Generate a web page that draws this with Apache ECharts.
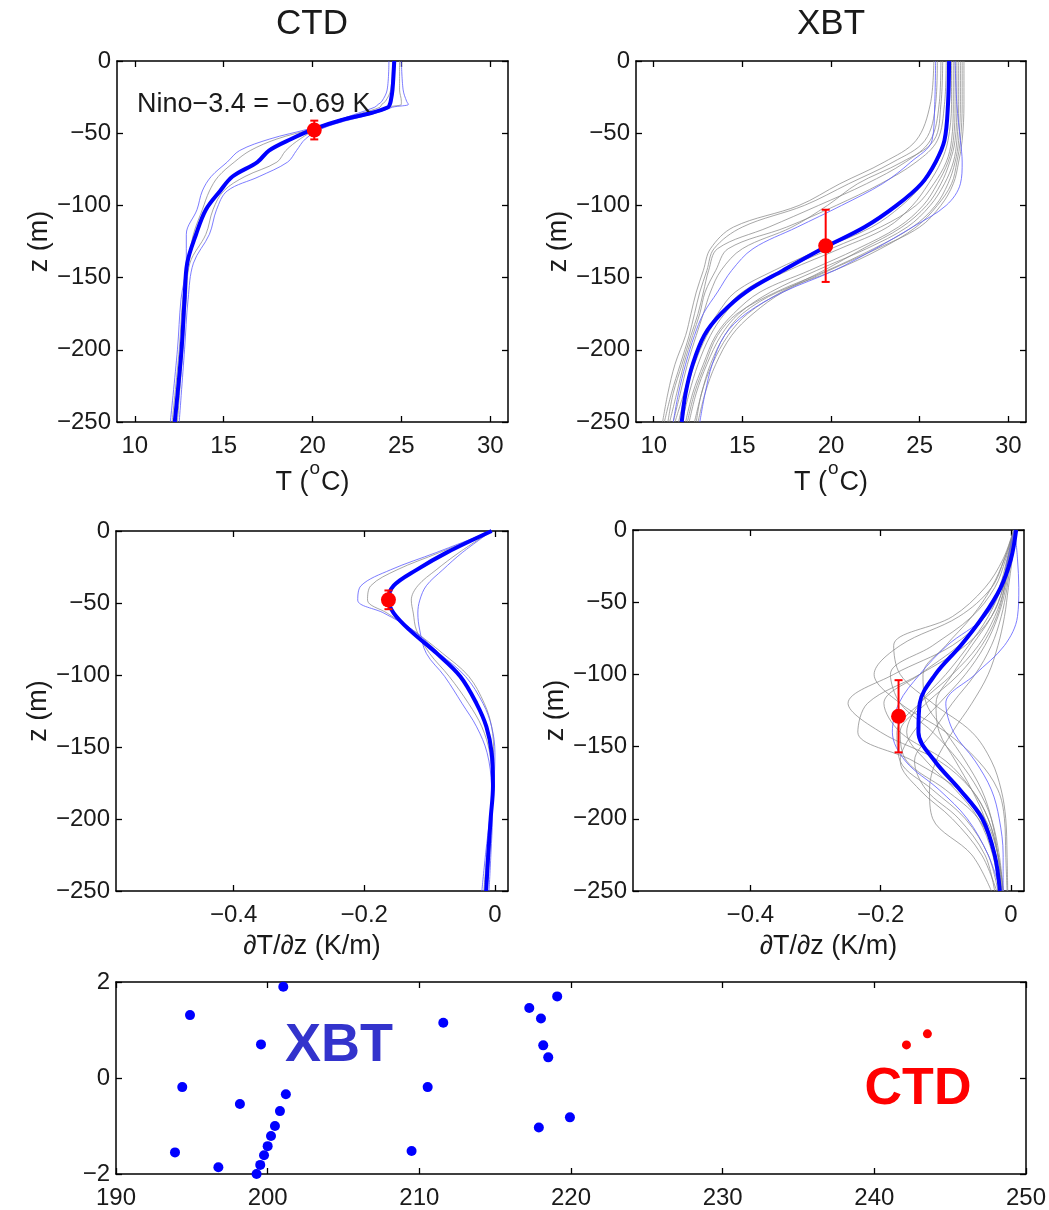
<!DOCTYPE html>
<html><head><meta charset="utf-8">
<script src="https://cdn.jsdelivr.net/npm/echarts@6/dist/echarts.min.js"></script>
<style>html,body{margin:0;padding:0;background:#fff}#c{width:1049px;height:1210px}</style>
</head><body><div id="c"></div>
<script>
// ---------- tick labels ----------
const tempTicks = [10, 15, 20, 25, 30];
const gradTicks = [-0.4, -0.2, 0];
const depthTicks = [0, -50, -100, -150, -200, -250];
const lonTicks = [190, 200, 210, 220, 230, 240, 250];
const idxTicks = [-2, 0, 2];

// ---------- CTD temperature profiles ----------
const ctdDepth = [0, -20, -28, -30, -32, -36, -41, -47, -54, -62, -70, -80, -90, -103, -120, -140, -165, -200, -250];
const ctdTempMean = [24.6, 24.5, 24.4, 24.35, 24.25, 23.3, 21.6, 20.1, 18.8, 17.55, 16.9, 15.5, 14.8, 14.0, 13.45, 12.95, 12.8, 12.63, 12.25];
const ctdTempBlue = [
  [24.3, 24.2, 23.9, 23.7, 23.5, 22.6, 21.4, 19.8, 17.6, 15.9, 15.2, 14.3, 13.8, 13.5, 12.9, 12.9, 12.6, 12.4, 12.0],
  [25.0, 25.1, 25.3, 25.4, 24.5, 23.6, 22.0, 20.5, 19.6, 19.1, 18.6, 17.0, 15.2, 14.6, 14.2, 13.3, 13.0, 12.8, 12.5]
];
const ctdTempGray = [
  [24.5, 24.4, 24.1, 23.9, 23.8, 22.8, 21.4, 20.0, 18.0, 16.5, 15.6, 14.7, 14.2, 13.8, 13.3, 13.0, 12.7, 12.5, 12.1],
  [24.9, 24.9, 25.0, 25.0, 24.2, 23.4, 21.8, 20.3, 19.3, 18.5, 18.0, 16.2, 15.0, 14.4, 14.0, 13.1, 12.9, 12.7, 12.4]
];
const ctdPoint = [[20.1, -47.8, 6.5]];

// ---------- CTD gradient profiles ----------
const ctdGradDepth = [0, -15, -27, -38, -48, -57, -69, -85, -101, -120, -136, -154, -177, -200, -223, -250];
const ctdGradMean = [-0.005, -0.074, -0.12, -0.155, -0.163, -0.155, -0.13, -0.089, -0.053, -0.028, -0.013, -0.005, -0.003, -0.0066, -0.010, -0.0135];
const ctdGradBlue = [
  [-0.005, -0.09, -0.16, -0.205, -0.21, -0.17, -0.125, -0.085, -0.045, -0.018, -0.005, 0.0, -0.002, -0.008, -0.014, -0.02],
  [-0.005, -0.05, -0.08, -0.105, -0.115, -0.118, -0.115, -0.105, -0.077, -0.05, -0.028, -0.012, -0.005, -0.004, -0.006, -0.009]
];
const ctdGradGray = [
  [-0.005, -0.085, -0.15, -0.19, -0.195, -0.165, -0.125, -0.08, -0.04, -0.016, -0.005, -0.002, -0.003, -0.007, -0.012, -0.017],
  [-0.005, -0.055, -0.09, -0.118, -0.128, -0.125, -0.12, -0.1, -0.07, -0.04, -0.02, -0.008, -0.004, -0.005, -0.008, -0.012]
];
const ctdGradPoint = [[-0.163, -47.8, 6.5]];

// ---------- XBT temperature profiles ----------
const xbtDepth = [0, -30, -55, -70, -85, -100, -115, -130, -145, -160, -175, -190, -210, -230, -250];
const xbtTempMean = [26.66, 26.6, 26.4, 25.9, 25.1, 23.7, 21.9, 19.5, 17.3, 15.2, 13.8, 12.85, 12.2, 11.8, 11.58];
const xbtTempBlue = [
  [25.9, 25.85, 25.7, 24.5, 22.9, 20.6, 18.1, 15.6, 14.4, 13.6, 12.8, 12.3, 11.8, 11.4, 11.1],
  [27.0, 27.1, 27.3, 27.4, 27.3, 26.5, 24.6, 22.5, 20.2, 17.3, 15.2, 14.0, 13.3, 12.9, 12.6]
];
const xbtTempGray = [
  [26.0, 25.9, 25.3, 23.5, 21.0, 18.5, 15.0, 13.4, 13.0, 12.6, 12.3, 12.0, 11.5, 11.0, 10.6],
  [26.2, 26.1, 25.6, 24.2, 22.0, 19.3, 16.5, 13.6, 13.1, 12.8, 12.5, 12.1, 11.6, 11.1, 10.8],
  [25.8, 25.6, 24.8, 23.0, 20.5, 18.2, 14.5, 13.2, 12.8, 12.4, 12.1, 11.8, 11.2, 10.8, 10.5],
  [26.5, 26.4, 26.0, 24.8, 22.8, 20.3, 17.5, 14.2, 13.5, 12.9, 12.6, 12.2, 11.7, 11.3, 10.9],
  [26.3, 26.2, 25.8, 24.0, 21.5, 19.8, 17.8, 15.0, 13.8, 13.2, 12.8, 12.4, 11.9, 11.5, 11.1],
  [26.8, 26.8, 26.6, 26.2, 25.5, 24.6, 23.2, 20.5, 17.6, 15.2, 14.0, 13.2, 12.5, 12.0, 11.6],
  [27.0, 27.0, 26.9, 26.6, 26.0, 25.2, 23.8, 21.5, 18.8, 16.0, 14.5, 13.5, 12.8, 12.2, 11.8],
  [27.2, 27.2, 27.1, 26.9, 26.4, 25.6, 24.3, 22.0, 19.2, 16.6, 14.8, 13.8, 13.0, 12.4, 12.0],
  [27.4, 27.4, 27.3, 27.1, 26.8, 26.0, 24.8, 22.8, 20.2, 17.0, 15.0, 14.0, 13.2, 12.7, 12.3],
  [26.9, 26.9, 26.8, 26.5, 25.8, 24.8, 22.8, 20.0, 17.2, 15.0, 13.8, 13.0, 12.3, 11.8, 11.4],
  [27.1, 27.1, 27.0, 26.7, 26.2, 25.4, 24.0, 21.8, 19.6, 17.2, 15.3, 14.2, 13.3, 12.7, 12.4],
  [26.6, 26.6, 26.4, 26.0, 25.2, 24.0, 22.3, 19.5, 16.8, 14.6, 13.6, 12.9, 12.2, 11.7, 11.2],
  [27.3, 27.3, 27.2, 27.0, 26.6, 25.9, 24.6, 22.4, 19.8, 16.9, 14.7, 13.6, 12.9, 12.3, 11.9],
  [27.5, 27.5, 27.4, 27.2, 26.9, 26.2, 25.0, 22.6, 19.9, 17.3, 15.6, 14.4, 13.5, 12.9, 12.5]
];
const xbtPoint = [[19.7, -128, 25]];

// ---------- XBT gradient profiles ----------
const xbtGradDepth = [0, -20, -40, -60, -80, -100, -120, -140, -160, -180, -200, -225, -250];
const xbtGradMean = [0.008, 0.0, -0.016, -0.043, -0.077, -0.116, -0.14, -0.142, -0.117, -0.078, -0.044, -0.025, -0.017];
const xbtGradBlue = [
  [0.005, -0.005, -0.015, -0.04, -0.098, -0.14, -0.172, -0.182, -0.162, -0.11, -0.067, -0.035, -0.016],
  [0.006, 0.01, 0.012, 0.01, -0.01, -0.055, -0.1, -0.088, -0.055, -0.03, -0.018, -0.012, -0.012]
];
const xbtGradGray = [
  [0.005, -0.005, -0.015, -0.04, -0.09, -0.18, -0.25, -0.2, -0.11, -0.06, -0.035, -0.02, -0.012],
  [0.004, -0.004, -0.012, -0.03, -0.07, -0.14, -0.22, -0.235, -0.15, -0.08, -0.04, -0.02, -0.012],
  [0.005, -0.01, -0.03, -0.08, -0.17, -0.21, -0.17, -0.1, -0.05, -0.02, -0.01, -0.008, -0.006],
  [0.004, -0.008, -0.025, -0.06, -0.12, -0.185, -0.17, -0.12, -0.08, -0.05, -0.03, -0.018, -0.012],
  [0.005, -0.004, -0.01, -0.025, -0.05, -0.09, -0.14, -0.175, -0.17, -0.12, -0.07, -0.035, -0.02],
  [0.006, -0.002, -0.008, -0.02, -0.04, -0.07, -0.11, -0.15, -0.17, -0.14, -0.09, -0.045, -0.022],
  [0.005, -0.005, -0.015, -0.035, -0.065, -0.1, -0.14, -0.16, -0.13, -0.085, -0.05, -0.028, -0.018],
  [0.004, -0.01, -0.03, -0.06, -0.1, -0.135, -0.13, -0.1, -0.07, -0.045, -0.03, -0.02, -0.015],
  [0.006, -0.003, -0.012, -0.03, -0.06, -0.09, -0.115, -0.11, -0.085, -0.06, -0.04, -0.025, -0.018],
  [0.007, 0.0, -0.006, -0.015, -0.03, -0.055, -0.09, -0.12, -0.148, -0.13, -0.08, -0.04, -0.025],
  [0.004, -0.006, -0.018, -0.04, -0.08, -0.14, -0.195, -0.17, -0.1, -0.06, -0.035, -0.02, -0.014],
  [0.005, -0.003, -0.01, -0.022, -0.045, -0.08, -0.13, -0.17, -0.16, -0.1, -0.05, -0.025, -0.016],
  [0.004, -0.012, -0.04, -0.09, -0.18, -0.17, -0.12, -0.06, -0.03, -0.015, -0.008, -0.006, -0.005],
  [0.007, 0.002, -0.004, -0.01, -0.02, -0.035, -0.06, -0.09, -0.115, -0.125, -0.12, -0.06, -0.03]
];
const xbtGradPoint = [[-0.1725, -129, 25]];

// ---------- cast positions (bottom panel) ----------
const xbtLon = [201.03, 194.88, 199.56, 194.37, 198.17, 201.2, 200.81, 200.48, 200.22, 200.0, 199.76, 199.51, 199.27, 193.89, 196.75, 209.49, 210.55, 211.58, 217.25, 219.09, 218.02, 218.17, 218.5, 217.88, 219.93];
const xbtIdx = [1.90, 1.31, 0.70, -0.19, -0.54, -0.34, -0.69, -1.0, -1.21, -1.42, -1.61, -1.81, -2.0, -1.55, -1.86, -1.52, -0.19, 1.15, 1.46, 1.70, 1.24, 0.68, 0.43, -1.03, -0.82];
const ctdLon = [242.12, 243.5];
const ctdIdx = [0.69, 0.92];

// ---------- build ----------
const FONT = '"Liberation Sans", Arial, Helvetica, sans-serif';
const TXT = '#1a1a1a';
const zip = (xs, zs) => xs.map((x, i) => [x, zs[i]]);
const minus = v => String(v).replace('-', '\u2212');

const grids = [
  {left: 117, top: 61, width: 391, height: 361},
  {left: 636, top: 61, width: 390, height: 361},
  {left: 116, top: 531, width: 392, height: 360},
  {left: 633, top: 530, width: 391, height: 361},
  {left: 116, top: 982, width: 910, height: 194}
];
const xRanges = [[9, 31, tempTicks], [9, 31, tempTicks], [-0.58, 0.02, gradTicks], [-0.58, 0.02, gradTicks], [190, 250, lonTicks]];
const yRanges = [[-250, 0, depthTicks], [-250, 0, depthTicks], [-250, 0, depthTicks], [-250, 0, depthTicks], [-2, 2, idxTicks]];
const axLine = {show: true, onZero: false, lineStyle: {color: '#000', width: 1.5}};
const tick = vals => ({show: true, inside: true, length: 6, customValues: vals, lineStyle: {color: '#000', width: 1.3}});
const xNames = [
  '{n|T (}{s|o}{n|C)}', '{n|T (}{s|o}{n|C)}', '{n|\u2202T/\u2202z (K/m)}', '{n|\u2202T/\u2202z (K/m)}', ''
];
const nameRich = {
  n: {fontSize: 27, fontFamily: FONT, color: TXT, lineHeight: 32, verticalAlign: 'bottom'},
  s: {fontSize: 19, fontFamily: FONT, color: TXT, lineHeight: 20, verticalAlign: 'bottom', padding: [0, 1, 18, 1]}
};
const xAxes = [], yAxes = [];
for (let g = 0; g < 5; g++) {
  const [mn, mx, tv] = xRanges[g];
  xAxes.push({
    type: 'value', gridIndex: g, min: mn, max: mx, position: 'bottom',
    axisLine: axLine, axisTick: tick(tv), splitLine: {show: false},
    axisLabel: {show: true, customValues: tv, formatter: minus, fontSize: 24, fontFamily: FONT, color: TXT, margin: 12},
    name: xNames[g], nameLocation: 'middle', nameGap: g < 2 ? 42 : 37,
    nameTextStyle: {rich: nameRich}
  });
  const [ymn, ymx, yv] = yRanges[g];
  yAxes.push({
    type: 'value', gridIndex: g, min: ymn, max: ymx, position: 'left',
    axisLine: axLine, axisTick: tick(yv), splitLine: {show: false},
    axisLabel: {show: true, customValues: yv, formatter: minus, fontSize: 24, fontFamily: FONT, color: TXT, margin: 6},
    name: g < 4 ? 'z (m)' : '', nameLocation: 'middle', nameGap: 62, nameRotate: 90,
    nameTextStyle: {fontSize: 27, fontFamily: FONT, color: TXT}
  });
}
for (let g = 0; g < 5; g++) {
  const [mn, mx, tv] = xRanges[g];
  xAxes.push({type: 'value', gridIndex: g, min: mn, max: mx, position: 'top',
    axisLine: axLine, axisTick: tick(tv), axisLabel: {show: false}, splitLine: {show: false}});
  const [ymn, ymx, yv] = yRanges[g];
  yAxes.push({type: 'value', gridIndex: g, min: ymn, max: ymx, position: 'right',
    axisLine: axLine, axisTick: tick(yv), axisLabel: {show: false}, splitLine: {show: false}});
}

const series = [];
function prof(g, xs, zs, color, width, opacity, z) {
  series.push({type: 'line', xAxisIndex: g, yAxisIndex: g, data: zip(xs, zs), showSymbol: false, symbol: 'none',
    smooth: 0.35, lineStyle: {color: color, width: width, opacity: opacity}, z: z, silent: true, clip: true});
}
function errRender(params, api) {
  const x = api.value(0), z = api.value(1), e = api.value(2);
  const a = api.coord([x, z + e]), b = api.coord([x, z - e]);
  const w = 4, st = {stroke: '#ff0000', lineWidth: 2};
  return {type: 'group', children: [
    {type: 'line', shape: {x1: a[0], y1: a[1], x2: b[0], y2: b[1]}, style: st},
    {type: 'line', shape: {x1: a[0] - w, y1: a[1], x2: a[0] + w, y2: a[1]}, style: st},
    {type: 'line', shape: {x1: b[0] - w, y1: b[1], x2: b[0] + w, y2: b[1]}, style: st}
  ]};
}
function point(g, pt) {
  series.push({type: 'custom', xAxisIndex: g, yAxisIndex: g, data: pt, encode: {x: 0, y: 1}, renderItem: errRender, z: 20, silent: true});
  series.push({type: 'scatter', xAxisIndex: g, yAxisIndex: g, data: pt.map(p => [p[0], p[1]]), symbolSize: 15,
    itemStyle: {color: '#ff0000', opacity: 1}, z: 21, silent: true});
}
const GRAY = '#8a8a8a', THIN = '#5c5cff', BLUE = '#0000ff';
// panel 0: CTD T
ctdTempGray.forEach(a => prof(0, a, ctdDepth, GRAY, 1, 0.75, 2));
ctdTempBlue.forEach(a => prof(0, a, ctdDepth, THIN, 1, 0.8, 3));
prof(0, ctdTempMean, ctdDepth, BLUE, 4, 1, 5);
point(0, ctdPoint);
// panel 1: XBT T
xbtTempGray.forEach(a => prof(1, a, xbtDepth, GRAY, 1, 0.75, 2));
xbtTempBlue.forEach(a => prof(1, a, xbtDepth, THIN, 1, 0.8, 3));
prof(1, xbtTempMean, xbtDepth, BLUE, 4, 1, 5);
point(1, xbtPoint);
// panel 2: CTD dT/dz
ctdGradGray.forEach(a => prof(2, a, ctdGradDepth, GRAY, 1, 0.75, 2));
ctdGradBlue.forEach(a => prof(2, a, ctdGradDepth, THIN, 1, 0.8, 3));
prof(2, ctdGradMean, ctdGradDepth, BLUE, 4, 1, 5);
point(2, ctdGradPoint);
// panel 3: XBT dT/dz
xbtGradGray.forEach(a => prof(3, a, xbtGradDepth, GRAY, 1, 0.75, 2));
xbtGradBlue.forEach(a => prof(3, a, xbtGradDepth, THIN, 1, 0.8, 3));
prof(3, xbtGradMean, xbtGradDepth, BLUE, 4, 1, 5);
point(3, xbtGradPoint);
// panel 4: positions
series.push({type: 'scatter', xAxisIndex: 4, yAxisIndex: 4, data: zip(xbtLon, xbtIdx), symbolSize: 10,
  itemStyle: {color: '#0000ff', opacity: 1}, silent: true, clip: false});
series.push({type: 'scatter', xAxisIndex: 4, yAxisIndex: 4, data: zip(ctdLon, ctdIdx), symbolSize: 9,
  itemStyle: {color: '#ff0000', opacity: 1}, silent: true, clip: false});

const graphic = [
  {type: 'text', x: 312, y: 24, style: {text: 'CTD', font: '35px ' + FONT, fill: TXT, textAlign: 'center', textVerticalAlign: 'middle'}},
  {type: 'text', x: 831, y: 24, style: {text: 'XBT', font: '35px ' + FONT, fill: TXT, textAlign: 'center', textVerticalAlign: 'middle'}},
  {type: 'text', x: 137, y: 105, z: 10, style: {text: 'Nino\u22123.4 = \u22120.69 K', font: '27px ' + FONT, fill: TXT, textAlign: 'left', textVerticalAlign: 'middle'}},
  {type: 'text', x: 339, y: 1046, style: {text: 'XBT', font: 'bold 54px ' + FONT, fill: '#3333cc', textAlign: 'center', textVerticalAlign: 'middle'}},
  {type: 'text', x: 918, y: 1090, style: {text: 'CTD', font: 'bold 52px ' + FONT, fill: '#ff0000', textAlign: 'center', textVerticalAlign: 'middle'}}
];

const chart = echarts.init(document.getElementById('c'), null, {renderer: 'canvas'});
chart.setOption({
  animation: false, backgroundColor: '#fff',
  grid: grids, xAxis: xAxes, yAxis: yAxes, series: series, graphic: graphic
});
</script></body></html>
